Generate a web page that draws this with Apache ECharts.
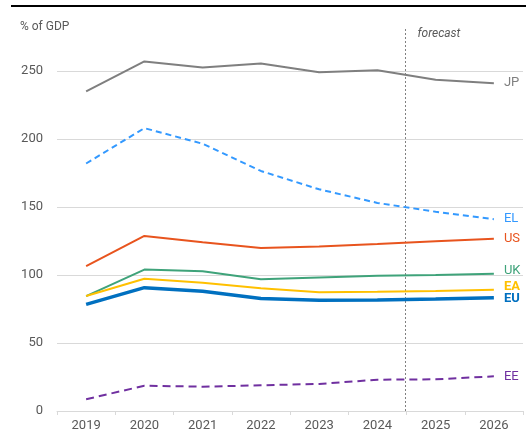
<!DOCTYPE html>
<html>
<head>
<meta charset="utf-8">
<script src="https://cdn.jsdelivr.net/npm/echarts@6/dist/echarts.min.js"></script>
<style>
  html, body { margin: 0; padding: 0; background: #fff; }
  #main { width: 526px; height: 434px; }
</style>
</head>
<body>
<div id="main"></div>
<script>
// years on the x axis
var years = ['2019', '2020', '2021', '2022', '2023', '2024', '2025', '2026'];
// gross public debt, % of GDP
var jp = [235, 257, 252.5, 255.5, 249, 250.5, 243.5, 241];
var el = [182, 208, 196.5, 176.5, 163, 153, 146.5, 141];
var us = [106.5, 128.7, 124, 119.8, 121, 122.8, 124.8, 126.7];
var uk = [84.5, 104, 102.7, 96.8, 98.2, 99.5, 100, 101];
var ea = [84.5, 97.3, 94.3, 90.2, 87.4, 87.6, 88.3, 89.2];
var eu = [78.4, 90.7, 88, 82.8, 81.4, 81.6, 82.3, 83.3];
var ee = [8.6, 18.6, 17.9, 18.9, 19.9, 23, 23.3, 25.5];
var yTicks = [0, 50, 100, 150, 200, 250];

var myChart = echarts.init(document.getElementById('main'));

// one line series with a label at its end
function line(name, data, color, opts) {
  opts = opts || {};
  return {
    name: name,
    type: 'line',
    data: data,
    symbol: 'none',
    clip: false,
    lineStyle: {
      color: color,
      width: opts.width || 2,
      type: opts.dash || 'solid'
    },
    endLabel: {
      show: true,
      formatter: name,
      color: color,
      distance: 10,
      offset: [0, opts.dy || 0],
      fontFamily: 'Roboto',
      fontSize: 13,
      fontWeight: opts.bold ? 'bold' : 'normal'
    },
    emphasis: { disabled: true }
  };
}

myChart.setOption({
  animation: false,
  grid: { left: 57, right: 3, top: 71, bottom: 23 },
  xAxis: {
    type: 'category',
    data: years,
    boundaryGap: true,
    axisLine: { lineStyle: { color: '#d9d9d9' } },
    axisTick: { show: true, length: 4, lineStyle: { color: '#d9d9d9' } },
    axisLabel: { color: '#595959', fontSize: 13, fontFamily: 'Roboto', margin: 8 }
  },
  yAxis: {
    type: 'value',
    min: yTicks[0],
    max: yTicks[yTicks.length - 1],
    interval: 50,
    axisLine: { show: false },
    axisTick: { show: false },
    splitLine: { lineStyle: { color: '#d9d9d9', width: 1 } },
    axisLabel: { color: '#595959', fontSize: 13, fontFamily: 'Roboto', margin: 14 }
  },
  series: [
    line('JP', jp, '#7f7f7f'),
    line('EL', el, '#3399ff', { dash: [6, 4] }),
    line('US', us, '#e8541e'),
    line('UK', uk, '#3fa37a', { dy: -3 }),
    line('EE', ee, '#7030a0', { dash: [8, 5] }),
    line('EA', ea, '#ffc000', { bold: true, dy: -3 }),
    line('EU', eu, '#0070c0', { width: 3.5, bold: true, dy: 1 })
  ]
});

// forecast divider between 2024 and 2025, placed with the axis scale
var xa = myChart.convertToPixel({ xAxisIndex: 0 }, '2024');
var xb = myChart.convertToPixel({ xAxisIndex: 0 }, '2025');
var xDiv = Math.floor((xa + xb) / 2) - 0.5;
var yBottom = myChart.convertToPixel({ yAxisIndex: 0 }, 0);

myChart.setOption({
  graphic: [
    {
      type: 'rect',
      shape: { x: 11, y: 5, width: 515, height: 2 },
      style: { fill: '#000' }
    },
    {
      type: 'text',
      left: 20,
      top: 21,
      style: { text: '% of GDP', fill: '#595959', font: '12px Roboto' }
    },
    {
      type: 'line',
      shape: { x1: xDiv, y1: 29, x2: xDiv, y2: yBottom },
      style: { stroke: '#808080', lineWidth: 1, lineDash: [2, 2] },
      z: 1
    },
    {
      type: 'text',
      left: xDiv + 12,
      top: 28,
      style: { text: 'forecast', fill: '#595959', font: 'italic 12px Roboto' }
    }
  ]
});
</script>
</body>
</html>
